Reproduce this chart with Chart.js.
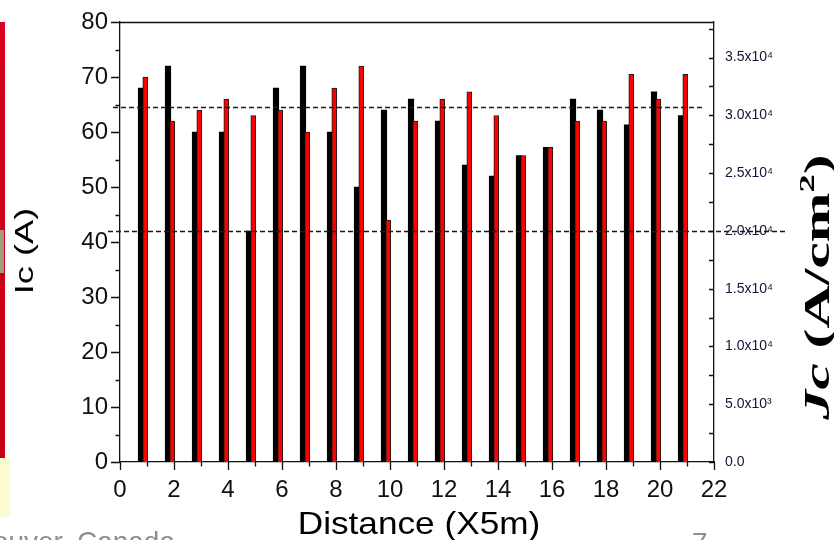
<!DOCTYPE html>
<html>
<head>
<meta charset="utf-8">
<script src="https://cdn.jsdelivr.net/npm/chart.js@4/dist/chart.umd.min.js"></script>
<style>
  html, body { margin: 0; padding: 0; background: #fff; overflow: hidden; }
  #wrap { position: relative; width: 834px; height: 540px; overflow: hidden; background: #fff; }
  #c { position: absolute; left: 0; top: 0; }
  .edge { position: absolute; left: 0; top: 22px; width: 5px; height: 436px; background: linear-gradient(#d8001c, #c40014); }
  .edge-mark { position: absolute; left: 0; top: 230px; width: 4px; height: 43px; background: #a39b7e; }
  .note { position: absolute; left: 0; top: 458px; width: 10px; height: 59px; background: #fdfbd2; }
  .foot { position: absolute; font-family: "Liberation Sans", Arial, sans-serif; color: #8e8e8e;
          font-size: 28px; line-height: 28px; white-space: nowrap; }
  #venue { right: 659px; top: 528px; }
  #page { left: 692px; top: 529px; }
</style>
</head>
<body>
<div id="wrap">
  <canvas id="c" width="834" height="540"></canvas>
  <div class="edge"></div>
  <div class="edge-mark"></div>
  <div class="note"></div>
  <div class="foot" id="venue">Vancouver, Canada</div>
  <div class="foot" id="page">7</div>
</div>
<script>
// Critical current along the tape, two measurements per position
const distance = [1, 2, 3, 4, 5, 6, 7, 8, 9, 10, 11, 12, 13, 14, 15, 16, 17, 18, 19, 20, 21];
const icFirst  = [68, 72, 60, 60, 42, 68, 72, 60, 50, 64, 66, 62, 54, 52, 55.7, 57.2, 66, 64, 61.3, 67.3, 63];
const icSecond = [70, 62, 64, 66, 63, 64, 60, 68, 72, 44, 62, 66, 67.3, 63, 55.7, 57.2, 62, 62, 70.5, 66, 70.5];
// dashed reference levels (A)
const icGuides = [64.6, 42.0];
// conversion from Ic (A) to Jc (A/cm^2)
const jcPerAmp = 476;
const icMax = 80;
const distMax = 22;
// labelled Jc values on the right axis
const jcTicks = [0, 5000, 10000, 15000, 20000, 25000, 30000, 35000];

const SANS = '"Liberation Sans", Arial, sans-serif';
const SERIF = '"Liberation Serif", "Times New Roman", serif';
const INK = '#111';

const SUP = { 3: '\u00B3', 4: '\u2074' };
function sciLabel(v) {
  if (v === 0) return '0.0';
  const e = Math.floor(Math.log10(v) + 1e-9);
  return (v / Math.pow(10, e)).toFixed(1) + 'x10' + SUP[e];
}

// unit width on the distance axis, used to offset the paired bars
const unitPx = (714.5 - 120) / distMax;
const shiftFirst = 6.0 / unitPx;
const shiftSecond = 1.7 / unitPx;

const tickMarks = {
  id: 'tickMarks',
  afterDraw(chart) {
    const { ctx, chartArea: a, scales } = chart;
    ctx.save();
    ctx.strokeStyle = INK;
    ctx.lineWidth = 1.3;
    ctx.beginPath();
    // frame top
    ctx.moveTo(a.left, a.top + 0.5);
    ctx.lineTo(a.right, a.top + 0.5);
    // distance ticks: long at even, short at odd
    for (let v = 0; v <= distMax; v += 1) {
      const px = Math.round(scales.x.getPixelForValue(v)) + 0.5;
      const len = v % 2 === 0 ? 8 : 4.5;
      ctx.moveTo(px, a.bottom);
      ctx.lineTo(px, a.bottom + len);
    }
    // Ic ticks, outward
    for (let v = 0; v <= icMax; v += 5) {
      const py = Math.round(scales.y.getPixelForValue(v)) + 0.5;
      const len = v % 10 === 0 ? 9 : 4.5;
      ctx.moveTo(a.left - len, py);
      ctx.lineTo(a.left, py);
    }
    // Jc ticks, inward
    for (let v = 0; v <= icMax * jcPerAmp; v += 2500) {
      const py = Math.round(scales.y2.getPixelForValue(v)) + 0.5;
      ctx.moveTo(a.right - 5, py);
      ctx.lineTo(a.right, py);
    }
    ctx.stroke();
    ctx.restore();
  }
};

const guideLines = {
  id: 'guideLines',
  afterDatasetsDraw(chart, args, opts) {
    const { ctx, chartArea: a, scales } = chart;
    ctx.save();
    ctx.strokeStyle = '#1a1a1a';
    ctx.lineWidth = 1.3;
    ctx.setLineDash([5, 3]);
    icGuides.forEach((lvl, i) => {
      const ext = opts.extents[i];
      const py = Math.round(scales.y.getPixelForValue(lvl)) + 0.5;
      ctx.beginPath();
      ctx.moveTo(a.left + ext[0], py);
      ctx.lineTo(a.right + ext[1], py);
      ctx.stroke();
    });
    ctx.restore();
  }
};

// axis titles, drawn with a stretch along the text direction
function drawRuns(ctx, runs) {
  let total = 0;
  runs.forEach(r => { ctx.font = r.font; r.w = ctx.measureText(r.text).width; total += r.w; });
  let x = -total / 2;
  runs.forEach(r => {
    ctx.font = r.font;
    ctx.fillText(r.text, x, r.dy || 0);
    x += r.w;
  });
}

const axisTitles = {
  id: 'axisTitles',
  afterDraw(chart) {
    const { ctx } = chart;
    ctx.save();
    ctx.fillStyle = '#000';
    ctx.textBaseline = 'alphabetic';
    ctx.textAlign = 'left';

    // bottom title
    ctx.save();
    ctx.translate(419, 534);
    ctx.scale(1.1, 1);
    drawRuns(ctx, [{ text: 'Distance (X5m)', font: '32px ' + SANS }]);
    ctx.restore();

    // left title
    ctx.save();
    ctx.translate(33, 251);
    ctx.rotate(-Math.PI / 2);
    ctx.scale(1.45, 1);
    drawRuns(ctx, [{ text: 'Ic (A)', font: '25px ' + SANS }]);
    ctx.restore();

    // right title
    ctx.save();
    ctx.translate(829, 287);
    ctx.rotate(-Math.PI / 2);
    ctx.scale(1.66, 1);
    drawRuns(ctx, [
      { text: 'Jc', font: 'italic bold 36px ' + SERIF },
      { text: ' (A/cm', font: 'bold 36px ' + SERIF },
      { text: '2', font: 'bold 22px ' + SERIF, dy: -15 },
      { text: ')', font: 'bold 36px ' + SERIF }
    ]);
    ctx.restore();

    ctx.restore();
  }
};

new Chart(document.getElementById('c'), {
  type: 'bar',
  data: {
    datasets: [
      {
        label: 'Ic 1',
        data: distance.map((d, i) => ({ x: d, y: icFirst[i] })),
        xAxisID: 'xFirst',
        yAxisID: 'y',
        backgroundColor: '#000',
        borderColor: '#000',
        borderWidth: 0,
        barThickness: 5.5,
        grouped: false,
        order: 2
      },
      {
        label: 'Ic 2',
        data: distance.map((d, i) => ({ x: d, y: icSecond[i] })),
        xAxisID: 'xSecond',
        yAxisID: 'y',
        backgroundColor: '#ff0000',
        borderColor: '#1a1a1a',
        borderWidth: 1,
        barThickness: 5,
        grouped: false,
        order: 1
      }
    ]
  },
  options: {
    responsive: false,
    animation: false,
    devicePixelRatio: 1,
    layout: { padding: { top: 22, left: 0, right: 0, bottom: 0 } },
    plugins: {
      legend: { display: false },
      tooltip: { enabled: false },
      guideLines: { extents: [[-7, -12], [-12, 74]] }
    },
    scales: {
      x: {
        type: 'linear', position: 'bottom', min: 0, max: distMax, offset: false,
        grid: { display: false },
        border: { display: true, color: INK, width: 1.3 },
        ticks: { stepSize: 2, autoSkip: false, maxRotation: 0, padding: 6,
                 color: INK, font: { family: SANS, size: 24 } },
        afterFit: s => { s.height = 78; }
      },
      xFirst: { type: 'linear', display: false, offset: false, min: shiftFirst, max: distMax + shiftFirst },
      xSecond: { type: 'linear', display: false, offset: false, min: shiftSecond, max: distMax + shiftSecond },
      y: {
        type: 'linear', position: 'left', min: 0, max: icMax,
        grid: { display: false },
        border: { display: true, color: INK, width: 1.3 },
        ticks: { stepSize: 10, padding: 4, color: INK, font: { family: SANS, size: 24 } },
        afterFit: s => { s.width = 120; }
      },
      y2: {
        type: 'linear', position: 'right', min: 0, max: icMax * jcPerAmp,
        grid: { display: false },
        border: { display: true, color: INK, width: 1.3 },
        ticks: { padding: 3, autoSkip: false,
                 color: '#14143a', font: { family: SANS, size: 14 },
                 callback: v => sciLabel(v) },
        afterBuildTicks: s => { s.ticks = jcTicks.map(v => ({ value: v })); },
        afterFit: s => { s.width = 120; }
      }
    }
  },
  plugins: [guideLines, tickMarks, axisTitles]
});
</script>
</body>
</html>
